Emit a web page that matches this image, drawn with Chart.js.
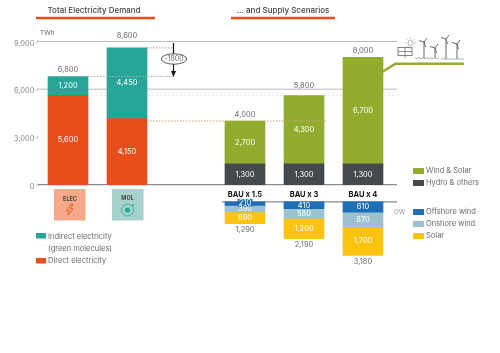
<!DOCTYPE html>
<html>
<head>
<meta charset="utf-8">
<style>
  html, body { margin: 0; padding: 0; background: #fff; }
  canvas { display: block; }
</style>
<script src="https://cdn.jsdelivr.net/npm/chart.js@4"></script>
</head>
<body>
<canvas id="ch" width="500" height="353"></canvas>
<script>
// Electricity demand (two bars) against supply scenarios, with installed GW hanging below.
const categories = ['ELEC', 'MOL', '', 'BAU x 1.5', 'BAU x 3', 'BAU x 4'];
const direct = [5600, 4150, null, null, null, null];
const indirect = [1200, 4450, null, null, null, null];
const hydro = [null, null, null, 1300, 1300, 1300];
const windSolar = [null, null, null, 2700, 4300, 6700];
const offshore = [null, null, null, 210, 410, 610];
const onshore = [null, null, null, 390, 580, 870];
const solar = [null, null, null, 690, 1200, 1700];
const twhTotals = [6800, 8600, null, 4000, 5800, 8000];
const gwTotals = [null, null, null, 1290, 2190, 3180];
const yTicks = [0, 3000, 6000, 9000];

const ORANGE = '#E84E1B', TEAL = '#27A596', GREEN = '#92AD2E', DARK = '#44494D';
const BLUE = '#1E6FB7', LIGHT = '#9CC2CF', YELLOW = '#FDC40F';
const GREY = '#6b6b6b';
const FONT = 'Inter, "Open Sans", sans-serif';
const fmt = n => n.toLocaleString('en-US');
const neg = arr => arr.map(v => v === null ? null : -v);

function text(c, str, x, y, size, color, align, weight) {
  c.font = `${weight || 400} ${size}px ${FONT}`;
  c.fillStyle = color;
  c.textAlign = align || 'center';
  c.textBaseline = 'middle';
  c.fillText(str, x, y);
}
function line(c, x1, y1, x2, y2, color, w, dash) {
  c.save();
  c.strokeStyle = color;
  c.lineWidth = w;
  c.setLineDash(dash || []);
  c.beginPath();
  c.moveTo(x1, y1);
  c.lineTo(x2, y2);
  c.stroke();
  c.restore();
}
function turbine(c, x, top, bottom) {
  line(c, x, top, x, bottom, '#666', 1);
  line(c, x, top, x + 3, top - 4, '#666', 1);
  line(c, x, top, x - 5, top - 1.5, '#666', 1);
  line(c, x, top, x + 1.5, top + 5, '#666', 1);
}

// gridlines sit under the bars and run past the plot on the right
const backdrop = {
  id: 'backdrop',
  beforeDatasetsDraw(chart) {
    const c = chart.ctx, y = chart.scales.y, low = chart.scales.low;
    line(c, 38, y.getPixelForValue(9000), 397, y.getPixelForValue(9000), '#bdbdbd', 1);
    line(c, 38, y.getPixelForValue(6000), 397, y.getPixelForValue(6000), '#bdbdbd', 1);
    line(c, 88, y.getPixelForValue(5600), 397, y.getPixelForValue(5600), '#e6e6e6', 1, [2, 2]);
    line(c, 38, y.getPixelForValue(0), 397, y.getPixelForValue(0), '#8a8a8a', 1.2);
    line(c, 222, low.getPixelForValue(0), 397, low.getPixelForValue(0), '#8a8a8a', 1.2);
    yTicks.forEach(v => {
      const py = y.getPixelForValue(v);
      line(c, 36.5, py + 2, 38, py - 1, '#aaa', 0.8);
    });
  }
};

const annotations = {
  id: 'annotations',
  afterDatasetsDraw(chart) {
    const c = chart.ctx, x = chart.scales.x, y = chart.scales.y, low = chart.scales.low;

    // values inside the segments
    chart.data.datasets.forEach((ds, i) => {
      chart.getDatasetMeta(i).data.forEach((bar, j) => {
        const v = ds.data[j];
        if (v === null) return;
        const p = bar.getCenterPoint();
        if (v === -210) {
          c.fillStyle = BLUE;
          c.fillRect(p.x - 7.5, low.getPixelForValue(0) - 3, 15, 8);
          text(c, fmt(-v), p.x, low.getPixelForValue(0) + 1, 7.5, '#fff');
          return;
        }
        text(c, fmt(Math.abs(v)), p.x, p.y, 7.5, '#fff');
      });
    });

    // totals over and under the stacks
    twhTotals.forEach((v, j) => {
      if (v === null) return;
      const lift = j === 1 ? 12 : 6.5;
      text(c, fmt(v), x.getPixelForValue(j), y.getPixelForValue(v) - lift, 7.5, GREY);
    });
    gwTotals.forEach((v, j) => {
      if (v === null) return;
      text(c, fmt(v), x.getPixelForValue(j), low.getPixelForValue(-v) + 6.5, 7.5, GREY);
      text(c, categories[j], x.getPixelForValue(j), 195, 7.5, '#111', 'center', 700);
    });

    // titles
    text(c, 'Total Electricity Demand', 94, 11, 8, '#444', 'center', 500);
    line(c, 36, 18, 155, 18, ORANGE, 2.5);
    text(c, '... and Supply Scenarios', 283, 11, 8, '#444', 'center', 500);
    line(c, 231, 18, 335, 18, ORANGE, 2.5);
    text(c, 'TWh', 40, 33, 6.5, GREY, 'left');

    // demand gap markers
    const ax = 173.5, y86 = y.getPixelForValue(8600), y68 = y.getPixelForValue(6800);
    line(c, 147, y86, ax, y86, '#aaa', 1, [1.5, 1.5]);
    line(c, 88, y68, ax, y68, '#aaa', 1, [1.5, 1.5]);
    line(c, 147, y.getPixelForValue(4000), 327, y.getPixelForValue(4000), '#c9a27a', 1, [1.5, 1.5]);
    line(c, ax, 43, ax, 72, '#111', 1.2);
    c.fillStyle = '#111';
    c.beginPath();
    c.moveTo(ax - 2.5, 71);
    c.lineTo(ax + 2.5, 71);
    c.lineTo(ax, 77);
    c.fill();
    c.fillStyle = '#fff';
    c.strokeStyle = '#333';
    c.lineWidth = 0.8;
    c.beginPath();
    c.ellipse(174, 59, 12.7, 5.2, 0, 0, Math.PI * 2);
    c.fill();
    c.stroke();
    text(c, '-1800', 174, 59, 7, GREY);

    // ELEC / MOL tiles
    c.fillStyle = '#F5A988';
    c.fillRect(54, 189, 31.5, 31.5);
    text(c, 'ELEC', 70, 199, 5.5, '#444', 'center', 700);
    c.strokeStyle = ORANGE;
    c.lineWidth = 0.8;
    c.beginPath();
    c.moveTo(71, 204); c.lineTo(66.5, 211); c.lineTo(69, 211); c.lineTo(68, 215);
    c.lineTo(73, 209); c.lineTo(70.5, 209); c.lineTo(73, 204); c.closePath();
    c.stroke();
    c.fillStyle = '#A6D3CC';
    c.fillRect(112, 189, 31.5, 31.5);
    text(c, 'MOL', 127.5, 198, 5.5, '#444', 'center', 700);
    c.strokeStyle = TEAL;
    c.beginPath();
    c.arc(127.5, 210, 6, 0, Math.PI * 2);
    c.stroke();
    c.fillStyle = TEAL;
    c.beginPath();
    c.arc(127.5, 210, 2.6, 0, Math.PI * 2);
    c.fill();
    c.beginPath();
    c.arc(133, 205, 1, 0, Math.PI * 2);
    c.fill();

    // left legend
    c.fillStyle = TEAL;
    c.fillRect(36, 233, 10, 5.5);
    text(c, 'Indirect electricity', 48, 236.5, 7.5, GREY, 'left');
    text(c, '(green molecules)', 48, 249, 7.5, GREY, 'left');
    c.fillStyle = ORANGE;
    c.fillRect(36, 258, 10, 5.5);
    text(c, 'Direct electricity', 48, 261, 7.5, GREY, 'left');

    // right legends
    const keys = [[GREEN, 'Wind & Solar', 171], [DARK, 'Hydro & others', 183],
      [BLUE, 'Offshore wind', 212], [LIGHT, 'Onshore wind', 224], [YELLOW, 'Solar', 236]];
    keys.forEach(k => {
      c.fillStyle = k[0];
      c.fillRect(413, k[2] - 3, 11, 6);
      text(c, k[1], 426, k[2], 7.5, GREY, 'left');
    });
    text(c, 'GW', 394, 212, 6.5, '#999', 'left');

    // bracket and renewables icon at top right
    c.save();
    c.strokeStyle = GREEN;
    c.lineWidth = 2.5;
    c.beginPath();
    c.moveTo(382.5, 71.7);
    c.lineTo(395.5, 63.7);
    c.lineTo(464, 63.7);
    c.stroke();
    c.restore();
    c.strokeStyle = '#666';
    c.lineWidth = 0.8;
    c.strokeRect(398, 47.5, 14, 8);
    line(c, 398, 51.5, 412, 51.5, '#666', 0.7);
    line(c, 405, 47.5, 405, 58, '#666', 0.7);
    c.strokeStyle = '#aaa';
    c.beginPath();
    c.arc(410.5, 43, 2.6, 0, Math.PI * 2);
    c.stroke();
    for (let a = 0; a < 8; a++) {
      const cs = Math.cos(a * Math.PI / 4), sn = Math.sin(a * Math.PI / 4);
      line(c, 410.5 + cs * 3.6, 43 + sn * 3.6, 410.5 + cs * 5.6, 43 + sn * 5.6, '#aaa', 0.6);
    }
    turbine(c, 424, 42, 58);
    turbine(c, 435, 48, 58);
    turbine(c, 446, 39, 59);
    turbine(c, 457, 44, 59);
    c.strokeStyle = '#888';
    c.lineWidth = 0.7;
    c.beginPath();
    for (let wx = 415; wx < 439; wx += 4) {
      c.moveTo(wx, 57.5);
      c.quadraticCurveTo(wx + 2, 60.5, wx + 4, 57.5);
    }
    c.stroke();
    line(c, 441, 59, 464, 59, '#8a9ac0', 0.8);
  }
};

const bar = (label, data, color, axis) => ({
  label, data, backgroundColor: color, yAxisID: axis, barThickness: 40, borderWidth: 0
});

new Chart(document.getElementById('ch'), {
  type: 'bar',
  data: {
    labels: categories,
    datasets: [
      bar('Direct electricity', direct, ORANGE, 'y'),
      bar('Indirect electricity', indirect, TEAL, 'y'),
      bar('Hydro & others', hydro, DARK, 'y'),
      bar('Wind & Solar', windSolar, GREEN, 'y'),
      bar('Offshore wind', neg(offshore), BLUE, 'low'),
      bar('Onshore wind', neg(onshore), LIGHT, 'low'),
      bar('Solar', neg(solar), YELLOW, 'low'),
    ],
  },
  options: {
    responsive: false,
    animation: false,
    layout: { padding: { top: 41.5, bottom: 73, left: 0, right: 107.5 } },
    plugins: { legend: { display: false }, tooltip: { enabled: false } },
    scales: {
      x: { stacked: true, display: false },
      y: {
        stacked: true, min: -6000, max: 9000,
        grid: { display: false }, border: { display: false },
        afterFit(s) { s.width = 38.5; },
        afterBuildTicks(s) { s.ticks = yTicks.map(value => ({ value })); },
        ticks: {
          color: '#888', font: { size: 7.5, family: FONT }, padding: -4, labelOffset: 2,
          callback: v => fmt(v),
        },
      },
      low: {
        stacked: true, display: false, min: -4650, max: 9550,
      },
    },
  },
  plugins: [backdrop, annotations],
});
</script>
</body>
</html>
